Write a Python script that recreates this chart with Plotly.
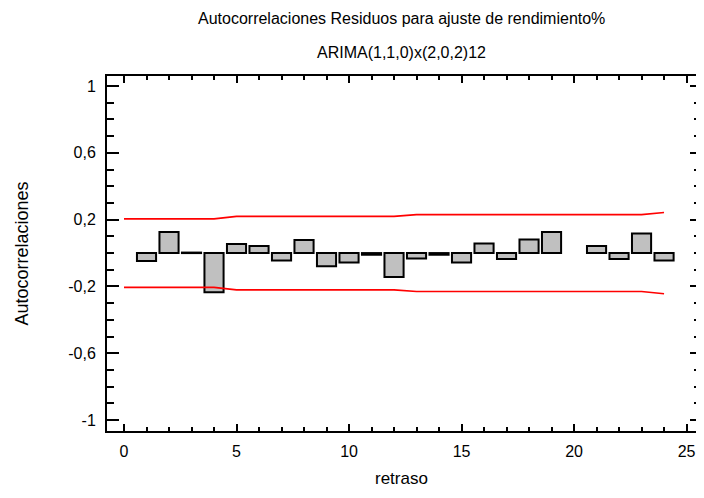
import plotly.graph_objects as go

# Data
lags = list(range(1, 25))
acf = [-0.047, 0.126, 0.003, -0.235, 0.054, 0.043, -0.045, 0.078,
       -0.079, -0.057, -0.010, -0.143, -0.033, -0.010, -0.057, 0.057,
       -0.035, 0.081, 0.126, None, 0.043, -0.035, 0.117, -0.045]

limit_lags = list(range(0, 25))
upper_limit = [0.205, 0.205, 0.205, 0.205, 0.205,
               0.220, 0.220, 0.220, 0.220, 0.220, 0.220, 0.220, 0.220,
               0.230, 0.230, 0.230, 0.230, 0.230, 0.230, 0.230, 0.230, 0.230, 0.230, 0.230,
               0.243]
lower_limit = [-0.205, -0.205, -0.205, -0.205, -0.205,
               -0.220, -0.220, -0.220, -0.220, -0.220, -0.220, -0.220, -0.220,
               -0.230, -0.230, -0.230, -0.230, -0.230, -0.230, -0.230, -0.230, -0.230, -0.230, -0.230,
               -0.243]

x_ticks = [0, 5, 10, 15, 20, 25]
y_ticks = [-1, -0.6, -0.2, 0.2, 0.6, 1]
y_ticktext = ["-1", "-0,6", "-0,2", "0,2", "0,6", "1"]

title_line1 = "Autocorrelaciones Residuos para ajuste de rendimiento%"
title_line2 = "ARIMA(1,1,0)x(2,0,2)12"
x_title = "retraso"
y_title = "Autocorrelaciones"

FONT = "Liberation Sans, Arial, sans-serif"

fig = go.Figure()
fig.add_trace(go.Bar(
    x=lags, y=acf, width=0.85,
    marker=dict(color="#c0c0c0", line=dict(color="black", width=2)),
))
fig.add_trace(go.Scatter(x=limit_lags, y=upper_limit, mode="lines",
                         line=dict(color="red", width=1.6)))
fig.add_trace(go.Scatter(x=limit_lags, y=lower_limit, mode="lines",
                         line=dict(color="red", width=1.6), yaxis="y2"))

yrange = [-1.065, 1.06]

# page body keeps its default 8px margin; figure sized so the page does not overflow
fig.update_layout(
    width=688, height=482,
    margin=dict(l=99, r=0, t=68, b=59, autoexpand=False),
    plot_bgcolor="white", paper_bgcolor="white",
    showlegend=False,
    font=dict(family=FONT, size=16, color="black"),
    xaxis=dict(
        range=[-0.756, 25.42], automargin=False,
        tickmode="array", tickvals=x_ticks,
        ticks="inside", ticklen=7, tickwidth=2, tickcolor="black",
        showline=True, linewidth=2, linecolor="black", mirror="ticks",
        showgrid=False, zeroline=False,
        minor=dict(tickmode="linear", tick0=0, dtick=1, ticks="inside",
                   ticklen=4, tickwidth=2, tickcolor="black", showgrid=False),
        tickfont=dict(size=16),
        ticklabelstandoff=5,
        ticklabeloverflow="allow",
    ),
    yaxis=dict(
        range=yrange, automargin=False,
        tickmode="array", tickvals=y_ticks, ticktext=y_ticktext,
        ticks="inside", ticklen=12, tickwidth=2, tickcolor="black",
        showline=True, linewidth=2, linecolor="black",
        showgrid=False, zeroline=False,
        minor=dict(tickmode="linear", tick0=-1, dtick=0.1, ticks="inside",
                   ticklen=7, tickwidth=2, tickcolor="black", showgrid=False),
        tickfont=dict(size=16),
        ticklabelstandoff=6,
    ),
    yaxis2=dict(
        range=yrange, overlaying="y", side="right", automargin=False,
        tickmode="array", tickvals=y_ticks, showticklabels=False,
        ticks="inside", ticklen=6, tickwidth=2, tickcolor="black",
        showline=False, showgrid=False, zeroline=False,
        minor=dict(tickmode="linear", tick0=-1, dtick=0.1, ticks="inside",
                   ticklen=2, tickwidth=2, tickcolor="black", showgrid=False),
    ),
    annotations=[
        dict(text=title_line1, xref="paper", yref="paper", x=0.5, y=1,
             xanchor="center", yanchor="middle", yshift=58, showarrow=False,
             font=dict(size=16)),
        dict(text=title_line2, xref="paper", yref="paper", x=0.5, y=1,
             xanchor="center", yanchor="middle", yshift=24, showarrow=False,
             font=dict(size=16)),
        dict(text=x_title, xref="paper", yref="paper", x=0.5, y=0,
             xanchor="center", yanchor="middle", yshift=-47, showarrow=False,
             font=dict(size=17)),
        dict(text=y_title, xref="paper", yref="paper", x=0, y=0.5,
             xanchor="center", yanchor="middle", xshift=-86, textangle=-90,
             showarrow=False, font=dict(size=18)),
    ],
)

fig.write_html("out.html")
